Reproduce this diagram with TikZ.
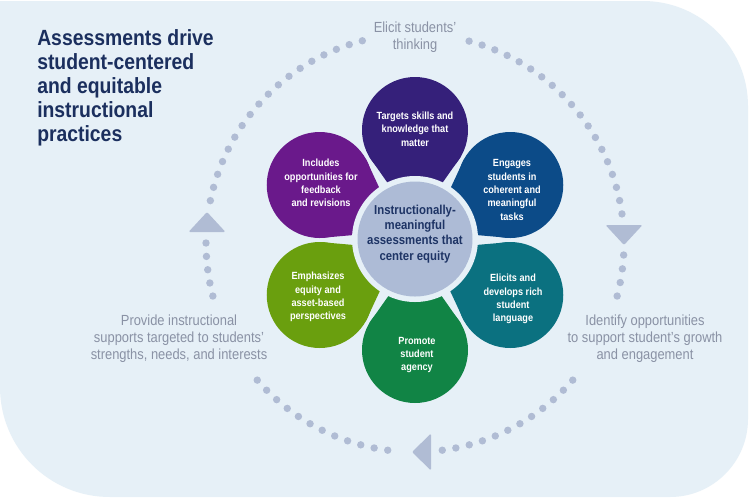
\documentclass[tikz,border=0pt]{standalone}
\usepackage{fontspec}
\setmainfont{Liberation Sans}[FakeStretch=0.88]
\definecolor{bgc}{RGB}{230,240,247}
\definecolor{titlec}{RGB}{27,47,94}
\definecolor{grayc}{RGB}{138,146,165}
\definecolor{dotc}{RGB}{176,188,212}
\definecolor{centc}{RGB}{173,187,214}
\definecolor{centt}{RGB}{30,52,101}
\definecolor{pA}{RGB}{53,32,122}
\definecolor{pB}{RGB}{12,75,136}
\definecolor{pC}{RGB}{11,113,128}
\definecolor{pD}{RGB}{17,132,69}
\definecolor{pE}{RGB}{106,159,14}
\definecolor{pF}{RGB}{106,25,139}
\newcommand\mypetal[3]{%
  \fill[#2] ({415+110*cos(#1)},{240+110*sin(#1)}) circle[radius=53];
  \fill[#2] ({415+18*cos(#1)},{240+18*sin(#1)})
    -- ({415+110*cos(#1)+53*cos(#1+120)},{240+110*sin(#1)+53*sin(#1+120)})
    -- ({415+110*cos(#1)},{240+110*sin(#1)})
    -- ({415+110*cos(#1)+53*cos(#1-120)},{240+110*sin(#1)+53*sin(#1-120)}) -- cycle;
  \coordinate (#3) at ({415+110*cos(#1)},{240+110*sin(#1)});
}
\newcommand\mydots[3]{%
  \foreach \i in {0,...,#3}{
    \fill[dotc] ({415+209*cos(#1+(#2-#1)*\i/#3)},{243+209*sin(#1+(#2-#1)*\i/#3)}) circle[radius=3.7];
  }
}
\tikzset{
  petaltext/.style={text=white, font=\bfseries\fontsize{7.8}{10}\selectfont, align=center, inner sep=0pt},
  graylabel/.style={text=grayc, font=\fontsize{11}{12.8}\selectfont, align=center, inner sep=0pt},
  tri/.style={fill=dotc, rounded corners=1pt}
}
\begin{document}
\begin{tikzpicture}[x=0.75pt,y=-0.75pt]
\useasboundingbox (0,0) rectangle (750,497);
\fill[white] (0,0) rectangle (750,497);
% background panel
\fill[bgc] (0,1) -- (643,1) .. controls (701,1) and (748,48) .. (748,106)
  -- (748,419) .. controls (748,462) and (713,497) .. (670,497)
  -- (110,497) .. controls (49,497) and (0,448) .. (0,387) -- cycle;
% dotted cycle
\mydots{285}{352}{18}
\mydots{3.3}{14.7}{3}
\mydots{41}{82.5}{11}
\mydots{97.5}{139}{11}
\mydots{165.3}{180}{4}
\mydots{191.7}{255.4}{17}
% arrow heads
\coordinate (al) at (207,222);
\coordinate (ar) at (624,235);
\coordinate (ab) at (421,452);
\fill[tri] (207,212) -- (225.5,232) -- (188.5,232) -- cycle;
\fill[tri] (605.5,225) -- (642.5,225) -- (624,245) -- cycle;
\fill[tri] (412,452) -- (431,433.5) -- (431,470.5) -- cycle;
% petals
\mypetal{270}{pA}{PA}
\mypetal{330}{pB}{PB}
\mypetal{30}{pC}{PC}
\mypetal{90}{pD}{PD}
\mypetal{150}{pE}{PE}
\mypetal{210}{pF}{PF}
% center
\fill[bgc] (415,239) circle[radius=63];
\fill[centc] (415,239) circle[radius=57.5];
\node[text=centt, font=\bfseries\fontsize{9.7}{11.4}\selectfont, align=center, inner sep=0pt] (ctr) at (415,234)
  {Instructionally-\\meaningful\\assessments that\\center equity};
% petal texts
\node[petaltext] (tA) at (415,129) {Targets skills and\\knowledge that\\matter};
\node[petaltext] (tB) at (512,190) {Engages\\students in\\coherent and\\meaningful\\tasks};
\node[petaltext] (tC) at (513,299) {Elicits and\\develops rich\\student\\language};
\node[petaltext] (tD) at (417,355) {Promote\\student\\agency};
\node[petaltext] (tE) at (318,297) {Emphasizes\\equity and\\asset-based\\perspectives};
\node[petaltext] (tF) at (321,183) {Includes\\opportunities for\\feedback\\and revisions};
% gray labels
\node[graylabel] (lt) at (415,37) {Elicit students’\\thinking};
\node[graylabel] (ll) at (179,339) {Provide instructional\\supports targeted to students’\\strengths, needs, and interests};
\node[graylabel] (lr) at (645,339) {Identify opportunities\\to support student’s growth\\and engagement};
% title
\node[text=titlec, font=\bfseries\fontsize{16.5}{18}\selectfont, align=left, anchor=west, inner sep=0pt] (title) at (37,88)
  {Assessments drive\\student-centered\\and equitable\\instructional\\practices};
\end{tikzpicture}
\end{document}
